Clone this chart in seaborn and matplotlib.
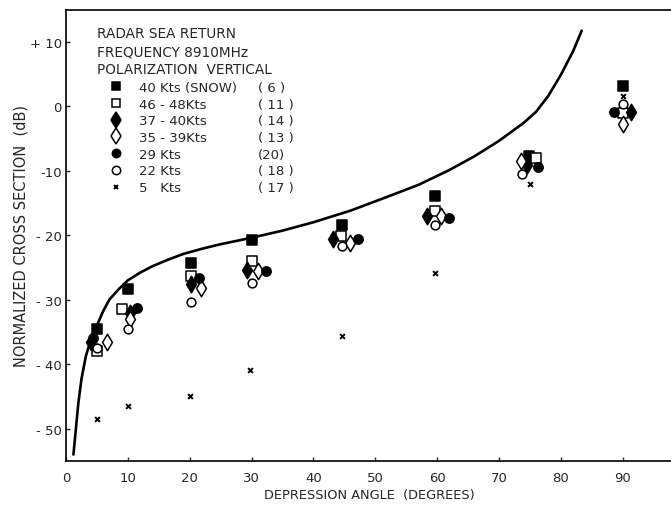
import matplotlib
matplotlib.use("Agg")
import matplotlib.pyplot as plt
from matplotlib.lines import Line2D
import seaborn as sns

# ---- data ----
curve_angle = [1.2, 1.6, 2.0, 2.5, 3.2, 4.0, 5.0, 6.0, 7.0, 8.5, 10.0, 12.0, 14.0, 16.5, 19.0,
               22.0, 25.0, 30.0, 35.0, 40.0, 46.0, 51.0, 57.0, 62.0, 66.0, 70.0, 72.0, 74.0, 76.0,
               78.0, 80.0, 82.0, 83.4]
curve_db = [-54.0, -50.0, -46.0, -42.3, -38.8, -36.2, -34.0, -31.8, -30.0, -28.4, -27.0, -25.8, -24.8,
            -23.8, -22.9, -22.1, -21.4, -20.4, -19.3, -18.0, -16.2, -14.4, -12.2, -9.9, -7.8, -5.4,
            -4.0, -2.6, -0.9, 1.6, 4.8, 8.5, 11.7]

sq_filled_x = [5.0, 10.0, 20.2, 30.0, 44.6, 59.7, 74.9, 90.0]
sq_filled_y = [-34.5, -28.4, -24.3, -20.8, -18.4, -13.9, -7.7, 3.1]
sq_open_x = [5.0, 9.0, 20.2, 30.0, 44.4, 59.7, 76.0, 90.0]
sq_open_y = [-38.0, -31.5, -26.3, -24.0, -20.2, -16.2, -8.1, -1.0]
dia_filled_x = [4.0, 10.3, 20.2, 29.2, 43.2, 58.4, 74.6, 91.4]
dia_filled_y = [-36.5, -32.0, -27.6, -25.4, -20.6, -17.0, -9.2, -0.9]
dia_open_x = [6.6, 10.3, 21.8, 31.0, 46.0, 60.6, 73.6, 90.0]
dia_open_y = [-36.5, -33.0, -28.2, -25.5, -21.2, -17.0, -8.5, -2.8]
circ_filled_x = [4.4, 11.5, 21.5, 32.3, 47.3, 62.0, 76.4, 88.6]
circ_filled_y = [-36.0, -31.3, -26.7, -25.5, -20.6, -17.4, -9.5, -0.9]
circ_open_x = [5.0, 10.0, 20.2, 30.0, 44.6, 59.7, 73.8, 90.0]
circ_open_y = [-37.5, -34.5, -30.3, -27.4, -21.7, -18.4, -10.5, 0.3]
kts5_x = [5.0, 10.0, 20.0, 29.8, 44.7, 59.7, 75.0, 90.0]
kts5_y = [-48.5, -46.5, -44.9, -40.9, -35.7, -25.9, -12.0, 1.5]

series_labels = ["40 Kts (SNOW)", "46 - 48Kts", "37 - 40Kts", "35 - 39Kts", "29 Kts", "22 Kts", "5   Kts"]
series_counts = ["( 6 )", "( 11 )", "( 14 )", "( 13 )", "(20)", "( 18 )", "( 17 )"]
header_lines = ["RADAR SEA RETURN", "FREQUENCY 8910MHz", "POLARIZATION  VERTICAL"]

x_ticks = [0, 10, 20, 30, 40, 50, 60, 70, 80, 90]
y_ticks = [10, 0, -10, -20, -30, -40, -50]
y_tick_labels = ["+ 10", "0", "-10", "- 20", "- 30", "- 40", "- 50"]

# ---- drawing ----
sns.set_style("ticks")
plt.rcParams["font.family"] = ["DejaVu Sans"]

fig = plt.figure(figsize=(6.71, 5.06), dpi=100)
ax = fig.add_axes([66 / 671, 1 - 462 / 506, 606 / 671, 451 / 506])

sns.lineplot(x=curve_angle, y=curve_db, color="black", linewidth=1.9, ax=ax, sort=False)

specs = [
    (sq_filled_x, sq_filled_y, "s", "black", 42),
    (sq_open_x, sq_open_y, "s", "white", 42),
    (dia_filled_x, dia_filled_y, "d", "black", 70),
    (dia_open_x, dia_open_y, "d", "white", 70),
    (circ_filled_x, circ_filled_y, "o", "black", 45),
    (circ_open_x, circ_open_y, "o", "white", 40),
]
handles = []
for (xs, ys, m, fc, s), lab in zip(specs, series_labels[:6]):
    sns.scatterplot(x=xs, y=ys, marker=m, color=fc, edgecolor="black", linewidth=1.1,
                    s=s, ax=ax, zorder=3, legend=False)
    handles.append(Line2D([], [], linestyle="none", marker=m, markerfacecolor=fc,
                          markeredgecolor="black", markeredgewidth=1.1,
                          markersize=6 if m != "d" else 8))
sns.scatterplot(x=kts5_x, y=kts5_y, marker="x", color="black", s=12, linewidth=1.4,
                ax=ax, zorder=3, legend=False)
handles.append(Line2D([], [], linestyle="none", marker="x", color="black",
                      markersize=3.5, markeredgewidth=1.4))

ax.set_xlim(0, 98)
ax.set_ylim(-55, 14.9)
ax.set_xticks(x_ticks)
ax.set_xticklabels([str(t) for t in x_ticks], fontsize=9.5)
ax.set_yticks(y_ticks)
ax.set_yticklabels(y_tick_labels, fontsize=9.5)
ax.tick_params(direction="in", length=3, width=1)
ax.tick_params(axis="y", pad=3)
ax.tick_params(axis="x", pad=7)
for side in ["left", "bottom", "top"]:
    ax.spines[side].set_linewidth(1.2)
    ax.spines[side].set_color("black")
ax.spines["right"].set_visible(False)

ax.set_xlabel("DEPRESSION ANGLE  (DEGREES)", fontsize=9.3, labelpad=3)
ax.set_ylabel("NORMALIZED CROSS SECTION  (dB)", fontsize=10.5, labelpad=1)

# header text, placed in display pixels measured from the top-left of the figure
for i, line in enumerate(header_lines):
    ax.text(97, 506 - (34.3 + i * 17.8), line, transform=None, fontsize=9.8,
            va="center", ha="left")

leg = ax.legend(handles, series_labels, loc="upper left", frameon=False, fontsize=9.5,
                bbox_to_anchor=(109 / 671, 1 - 82 / 506), bbox_transform=fig.transFigure,
                handlelength=1.0, handletextpad=1.3, labelspacing=0.28, borderpad=0,
                borderaxespad=0)
ax.add_artist(leg)
leg2 = ax.legend([Line2D([], [], linestyle="none")] * 7, series_counts, loc="upper left",
                 frameon=False, fontsize=9.5,
                 bbox_to_anchor=(258 / 671, 1 - 82 / 506), bbox_transform=fig.transFigure,
                 handlelength=0, handletextpad=0, labelspacing=0.28, borderpad=0,
                 borderaxespad=0)

fig.savefig("out.png", dpi=100)
